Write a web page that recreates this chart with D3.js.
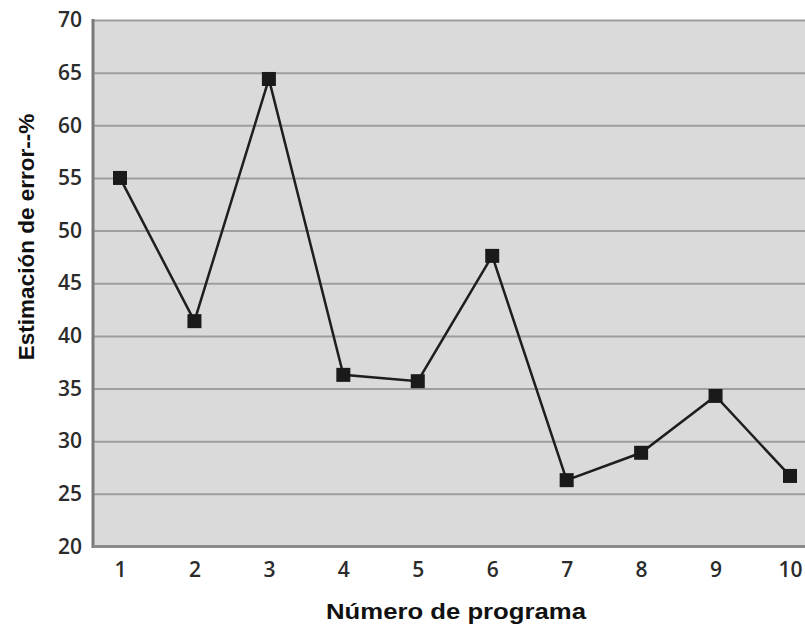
<!DOCTYPE html>
<html>
<head>
<meta charset="utf-8">
<script src="https://cdn.jsdelivr.net/npm/d3@7"></script>
<style>
  body { margin: 0; background: #fff; }
  .tick text { font-family: "Open Sans", sans-serif; font-weight: 600; font-size: 21px; fill: #2b2b2b; }
  .axis-title { font-family: "Liberation Sans", Arial, sans-serif; font-weight: bold; font-size: 22.5px; fill: #111; }
</style>
</head>
<body>
<div id="chart"></div>
<script>
// data
const programas = [1, 2, 3, 4, 5, 6, 7, 8, 9, 10];
const errores = [55, 41.4, 64.4, 36.3, 35.7, 47.6, 26.3, 28.9, 34.3, 26.7];
const yTicks = [20, 25, 30, 35, 40, 45, 50, 55, 60, 65, 70];

const width = 805, height = 630;
const plot = {left: 93, top: 20, right: 812, bottom: 546.5};

const svg = d3.select('#chart').append('svg')
  .attr('width', width)
  .attr('height', height);

const x = d3.scaleLinear().domain([1, 10]).range([120, 790]);
const y = d3.scaleLinear().domain([20, 70]).range([plot.bottom, plot.top]);

// grey plot background
svg.append('rect')
  .attr('x', plot.left)
  .attr('y', plot.top)
  .attr('width', plot.right - plot.left)
  .attr('height', plot.bottom - plot.top)
  .attr('fill', '#dadada');

// horizontal grid lines
const grid = svg.append('g')
  .attr('transform', `translate(${plot.left},0)`)
  .call(d3.axisLeft(y).tickValues(yTicks).tickSize(-(plot.right - plot.left)).tickFormat(''));
grid.select('.domain').remove();
grid.selectAll('line').attr('stroke', '#9e9e9e').attr('stroke-width', 2);

// y axis labels
const yAxisG = svg.append('g')
  .attr('transform', `translate(${plot.left},0)`)
  .call(d3.axisLeft(y).tickValues(yTicks).tickSize(0).tickPadding(11));
yAxisG.select('.domain').remove();

// x axis labels
const xAxisG = svg.append('g')
  .attr('transform', `translate(0,${plot.bottom})`)
  .call(d3.axisBottom(x).tickValues(programas).tickSize(0).tickPadding(16).tickFormat(d3.format('d')));
xAxisG.select('.domain').remove();

// left and bottom frame
svg.append('line')
  .attr('x1', plot.left).attr('x2', plot.left)
  .attr('y1', plot.top - 1).attr('y2', plot.bottom + 1.5)
  .attr('stroke', '#7a7a7a').attr('stroke-width', 3);
svg.append('line')
  .attr('x1', plot.left).attr('x2', plot.right)
  .attr('y1', plot.bottom).attr('y2', plot.bottom)
  .attr('stroke', '#8a8a8a').attr('stroke-width', 3);

// the series line
const line = d3.line()
  .x((d, i) => x(programas[i]))
  .y(d => y(d));

svg.append('path')
  .datum(errores)
  .attr('d', line)
  .attr('fill', 'none')
  .attr('stroke', '#1e1e1e')
  .attr('stroke-width', 2.5);

// square markers
const s = 14;
svg.selectAll('.marker')
  .data(errores)
  .enter().append('rect')
    .attr('class', 'marker')
    .attr('x', (d, i) => x(programas[i]) - s / 2)
    .attr('y', d => y(d) - s / 2)
    .attr('width', s)
    .attr('height', s)
    .attr('fill', '#1a1a1a');

// axis titles
svg.append('text')
  .attr('class', 'axis-title')
  .attr('text-anchor', 'middle')
  .attr('x', 456)
  .attr('y', 619)
  .attr('textLength', 260)
  .attr('lengthAdjust', 'spacingAndGlyphs')
  .text('Número de programa');

svg.append('text')
  .attr('class', 'axis-title')
  .attr('text-anchor', 'middle')
  .attr('transform', 'translate(34,237) rotate(-90)')
  .text('Estimación de error--%');
</script>
</body>
</html>
